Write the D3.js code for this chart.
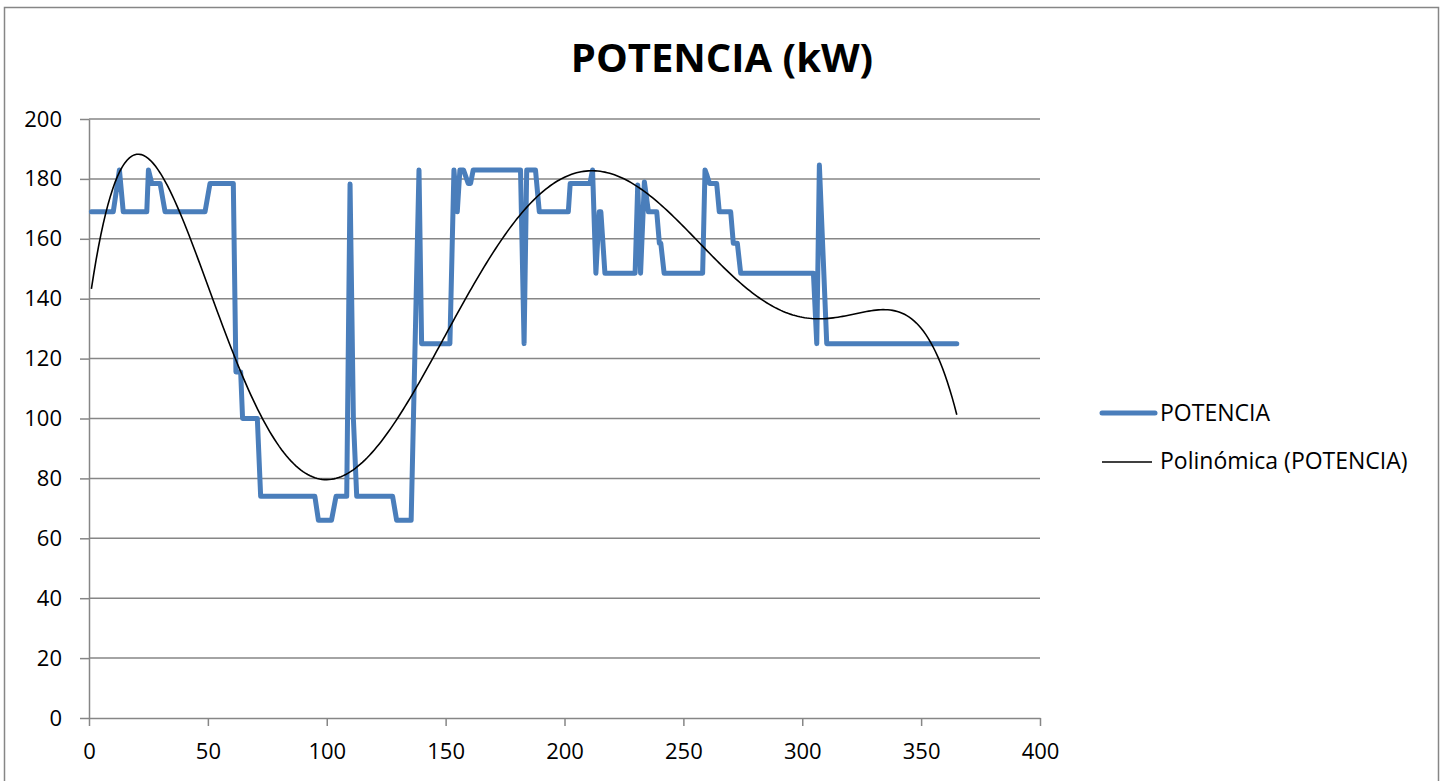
<!DOCTYPE html>
<html>
<head>
<meta charset="utf-8">
<script src="https://cdn.jsdelivr.net/npm/d3@7"></script>
<style>
  body { margin: 0; background: #fff; }
  svg { display: block; }
  .tick text { font-family: 'Open Sans', sans-serif; font-size: 22px; fill: #000; }
</style>
</head>
<body>
<svg></svg>
<script>
const width = 1446;
const height = 781;

// POTENCIA (kW) por dia: vertices de la serie escalonada
const potenciaDias = [1, 10.2, 12.8, 14.4, 24.3, 25, 26.4, 29.9, 32, 48.8, 50.9, 60.7, 61.8, 63.8, 64.6, 70.8,
  72.2, 95, 96.5, 102, 103.9, 108.4, 109.8, 111.2, 112.6, 127.7, 129.4, 135.5, 138.8, 139.9, 151.8, 153.5,
  154.9, 156, 157.5, 159.5, 160.5, 161.6, 181.5, 183, 184.1, 187.8, 189.4, 201.6, 202.4, 210.7, 211.8, 213.2,
  214.6, 215.3, 217, 229.7, 230.8, 232, 233.6, 235.3, 238.8, 239.9, 240.5, 241.9, 258.1, 259.1, 260, 261,
  264, 265.1, 269.9, 271, 272.7, 274.1, 304.7, 306.1, 307.2, 310.3, 365];
const potenciaKW = [169, 169, 183, 169, 169, 183, 178.5, 178.5, 169, 169, 178.5, 178.5, 115.5, 115.5, 100, 100,
  74, 74, 66, 66, 74, 74, 178.3, 100, 74, 74, 66, 66, 183, 125, 125, 183,
  169, 183, 183, 178.5, 178.5, 183, 183, 125, 183, 183, 169, 169, 178.5, 178.5, 183, 148.5,
  169, 169, 148.5, 148.5, 178, 148.5, 179, 169, 169, 158.5, 158.5, 148.5, 148.5, 183, 181, 178.5,
  178.5, 169, 169, 158.5, 158.5, 148.5, 148.5, 125, 184.6, 125, 125];

// Linea de tendencia polinomica: puntos
const tendDias = [1, 4.6, 10.2, 20.7, 31.3, 38.3, 45.3, 52.3, 59.3, 69.1, 83.1, 100, 111.2, 125.2, 136.4,
  150.4, 164.5, 178.5, 192.5, 211.6, 229, 243, 257, 276.6, 290.6, 304.7, 318.7, 334.8, 346.7, 355.1, 365];
const tendKW = [143.5, 159.6, 176.3, 189.1, 179.6, 169.6, 155.2, 140.1, 125.1, 102.8, 87.2, 80, 82.8, 93.9, 110.6,
  129.5, 148.5, 164, 177.4, 181.3, 178.6, 169.6, 157.4, 145.1, 136.2, 133.1, 134.6, 137, 131.8, 122.9, 102.2];
const tendGrado = 6;

const xTicks = [0, 50, 100, 150, 200, 250, 300, 350, 400];
const yTicks = [0, 20, 40, 60, 80, 100, 120, 140, 160, 180, 200];

const serieNombre = "POTENCIA";
const tendNombre = "Polinómica (POTENCIA)";
const titulo = "POTENCIA (kW)";

const grey = "#868686";
const blue = "#4a7ebb";

// least squares polynomial, like Excel's trend line
function polyFit(xs, ys, deg, scale) {
  const n = deg + 1;
  const A = Array.from({ length: n }, () => new Array(n + 1).fill(0));
  xs.forEach((xv, k) => {
    const t = xv / scale;
    const p = [];
    for (let i = 0; i < n; i++) p.push(Math.pow(t, i));
    for (let i = 0; i < n; i++) {
      for (let j = 0; j < n; j++) A[i][j] += p[i] * p[j];
      A[i][n] += p[i] * ys[k];
    }
  });
  for (let c = 0; c < n; c++) {
    let piv = c;
    for (let r = c + 1; r < n; r++) if (Math.abs(A[r][c]) > Math.abs(A[piv][c])) piv = r;
    [A[c], A[piv]] = [A[piv], A[c]];
    for (let r = 0; r < n; r++) {
      if (r === c) continue;
      const f = A[r][c] / A[c][c];
      for (let j = c; j <= n; j++) A[r][j] -= f * A[c][j];
    }
  }
  const coef = A.map((row, i) => row[n] / row[i]);
  return xv => coef.reduce((s, a, i) => s + a * Math.pow(xv / scale, i), 0);
}

const svg = d3.select('svg')
  .attr('width', width)
  .attr('height', height);

svg.append('rect')
  .attr('width', width).attr('height', height)
  .attr('fill', '#fff');

// chart border
svg.append('rect')
  .attr('x', 4.5).attr('y', 7.5)
  .attr('width', 1434).attr('height', 800)
  .attr('fill', 'none')
  .attr('stroke', grey)
  .attr('stroke-width', 1.5);

const x = d3.scaleLinear().domain([0, 400]).range([89, 1040]);
const y = d3.scaleLinear().domain([0, 200]).range([718, 119]);

// gridlines
svg.append('g')
  .selectAll('line')
  .data(yTicks.slice(1))
  .enter().append('line')
    .attr('x1', x(0)).attr('x2', x(400))
    .attr('y1', d => y(d)).attr('y2', d => y(d))
    .attr('stroke', grey)
    .attr('stroke-width', 1.5);

const xAxis = svg.append('g')
  .attr('transform', `translate(0,${y(0)})`)
  .call(d3.axisBottom(x).tickValues(xTicks).tickSize(8).tickSizeOuter(0).tickPadding(17));

const yAxis = svg.append('g')
  .attr('transform', `translate(${x(0)},0)`)
  .call(d3.axisLeft(y).tickValues(yTicks).tickSize(9).tickSizeOuter(0).tickPadding(18));

[xAxis, yAxis].forEach(a => {
  a.select('.domain').attr('stroke', grey).attr('stroke-width', 1.5);
  a.selectAll('.tick line').attr('stroke', grey).attr('stroke-width', 1.5);
});

// series
const serie = potenciaDias.map((d, i) => [d, potenciaKW[i]]);

const fit = polyFit(tendDias, tendKW, tendGrado, 365);
const t0 = d3.min(tendDias), t1 = d3.max(tendDias);
const tend = d3.range(t0, t1 + 0.01, 1).map(d => [d, fit(d)]);

const line = d3.line()
  .x(d => x(d[0]))
  .y(d => y(d[1]));

svg.append('path')
  .datum(serie)
  .attr('d', line)
  .attr('fill', 'none')
  .attr('stroke', blue)
  .attr('stroke-width', 5)
  .attr('stroke-linejoin', 'round')
  .attr('stroke-linecap', 'round');

svg.append('path')
  .datum(tend)
  .attr('d', line)
  .attr('fill', 'none')
  .attr('stroke', '#000')
  .attr('stroke-width', 1.6);

// title
svg.append('text')
  .attr('x', 722).attr('y', 72)
  .attr('text-anchor', 'middle')
  .attr('font-family', "'Open Sans', sans-serif")
  .attr('font-weight', 'bold')
  .attr('font-size', 40)
  .text(titulo);

// legend
const legend = svg.append('g');
legend.append('line')
  .attr('x1', 1102).attr('x2', 1155).attr('y1', 413).attr('y2', 413)
  .attr('stroke', blue).attr('stroke-width', 5).attr('stroke-linecap', 'round');
legend.append('line')
  .attr('x1', 1102).attr('x2', 1152).attr('y1', 462).attr('y2', 462)
  .attr('stroke', '#000').attr('stroke-width', 1.6);
legend.selectAll('text')
  .data([[serieNombre, 421], [tendNombre, 469]])
  .enter().append('text')
    .attr('x', 1160)
    .attr('y', d => d[1])
    .attr('font-family', "'Open Sans', sans-serif")
    .attr('font-size', 23)
    .text(d => d[0]);
</script>
</body>
</html>
